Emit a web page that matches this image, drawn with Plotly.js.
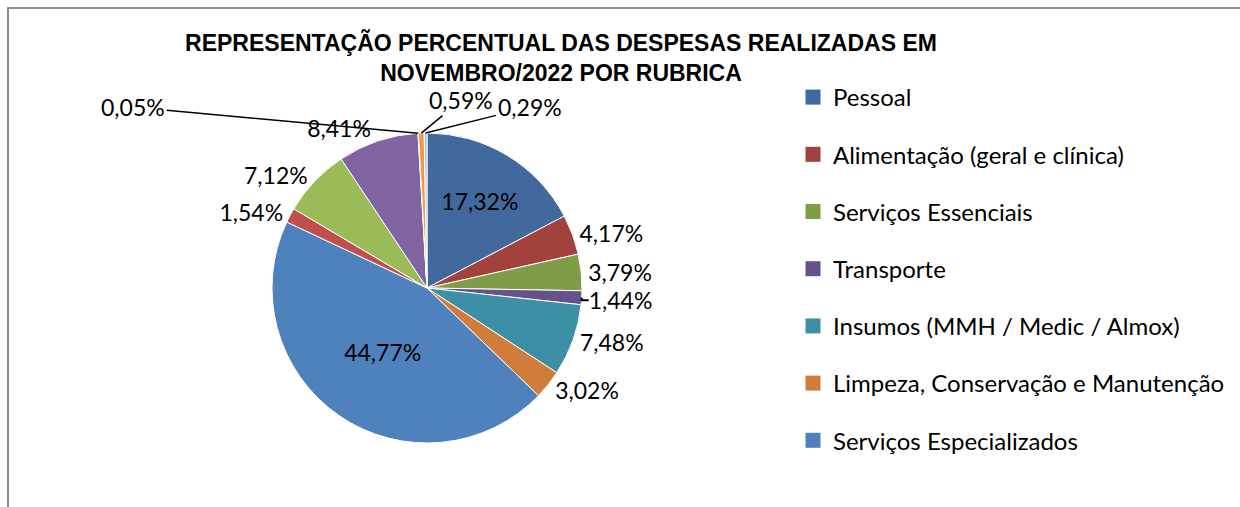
<!DOCTYPE html>
<html><head><meta charset="utf-8">
<script src="https://cdn.plot.ly/plotly-3.0.1.min.js"></script>
<style>
html,body{margin:0;padding:0;background:#fff;overflow:hidden}
#frame{position:absolute;left:7px;top:7px;width:1300px;height:600px;border-left:2px solid #8c8c8c;border-top:2px solid #8c8c8c;pointer-events:none;z-index:5}
#chart{width:1240px;height:507px}
</style></head><body>
<div id="chart"></div><div id="frame"></div>
<script>
// ---- data ----
const categories = ["Pessoal","Alimentação (geral e clínica)","Serviços Essenciais","Transporte","Insumos (MMH / Medic / Almox)","Limpeza, Conservação e Manutenção","Serviços Especializados","Rubrica 8","Rubrica 9","Rubrica 10","Rubrica 11","Rubrica 12","Rubrica 13"];
const values = [17.32,4.17,3.79,1.44,7.48,3.02,44.77,1.54,7.12,8.41,0.05,0.59,0.29];
const legendCount = 7;
const titleText = "REPRESENTAÇÃO PERCENTUAL DAS DESPESAS REALIZADAS EM<br>NOVEMBRO/2022 POR RUBRICA";

// ---- style ----
const colors = ["#41699b","#a1423f","#7f9c48","#67518a","#3d8fa5","#d07c3a",
                "#4f81bd","#c0504d","#9bbb59","#8064a2","#4bacc6","#f79646","#a5bcdc"];
const textPos = ["inside","outside","outside","outside","outside","outside","inside","outside","outside","outside","none","none","none"];
const W = 1240, H = 507;
const cx = 427, cy = 288, R = 155;
const FONT = "Lato, 'Open Sans', sans-serif";
const labelOffsets = {10: [-285,-26], 11: [40,-33], 12: [104,-26]};

const fmt = v => v.toFixed(2).replace('.', ',') + '%';
const texts = values.map(fmt);
const total = values.reduce((a,b)=>a+b,0);

const pie = {
  type: 'pie', labels: categories, values: values, sort: false,
  direction: 'clockwise', rotation: 0,
  text: texts, textinfo: 'text', textposition: textPos,
  hoverinfo: 'label+text',
  marker: {colors: colors, line: {color: '#ffffff', width: 1}},
  textfont: {family: FONT, size: 23, color: '#000'},
  insidetextfont: {family: FONT, size: 23, color: '#000'},
  outsidetextfont: {family: FONT, size: 23, color: '#000'},
  insidetextorientation: 'horizontal',
  domain: {x: [(cx-R)/W, (cx+R)/W], y: [(H-cy-R)/H, (H-cy+R)/H]},
  showlegend: false
};

const legendTraces = categories.slice(0, legendCount).map((c, i) => ({
  type: 'scatter', mode: 'markers', x: [null], y: [null], name: c,
  legendgroup: 'g' + i,
  marker: {symbol: 'square', size: 15, color: colors[i]},
  hoverinfo: 'skip', showlegend: true
}));

// annotations for tiny slices, anchored on slice edges computed from the data
const annotations = [];
let cum = 0;
values.forEach((v, i) => {
  const mid = (cum + v/2) / total;
  cum += v;
  if (labelOffsets[i]) {
    const th = mid * 2 * Math.PI;
    const px = cx + R * Math.sin(th), py = cy - R * Math.cos(th);
    annotations.push({
      x: px / W, y: 1 - py / H, xref: 'paper', yref: 'paper',
      text: texts[i], showarrow: true, arrowhead: 0, arrowwidth: 1.5, arrowcolor: '#000',
      ax: labelOffsets[i][0], ay: labelOffsets[i][1], standoff: 0,
      font: {family: FONT, size: 23, color: '#000'}
    });
  }
});

const layout = {
  width: W, height: H,
  margin: {l: 0, r: 0, t: 0, b: 0},
  paper_bgcolor: '#fff', plot_bgcolor: '#fff',
  title: {text: titleText, x: 561/W, xanchor: 'center', y: 1 - 51/H, yanchor: 'top',
          font: {family: "'Liberation Sans Narrow', 'Liberation Sans', sans-serif", size: 23, color: '#000', weight: 'bold'}},
  xaxis: {visible: false}, yaxis: {visible: false},
  legend: {x: 793/W, xanchor: 'left', y: 1 - 75/H, yanchor: 'top',
           font: {family: FONT, size: 24, color: '#000'},
           traceorder: 'grouped', tracegroupgap: 23, itemwidth: 30, bgcolor: 'rgba(0,0,0,0)'},
  annotations: annotations,
  showlegend: true
};

Plotly.newPlot('chart', [pie].concat(legendTraces), layout, {displayModeBar: false, staticPlot: true});
</script>
</body></html>
